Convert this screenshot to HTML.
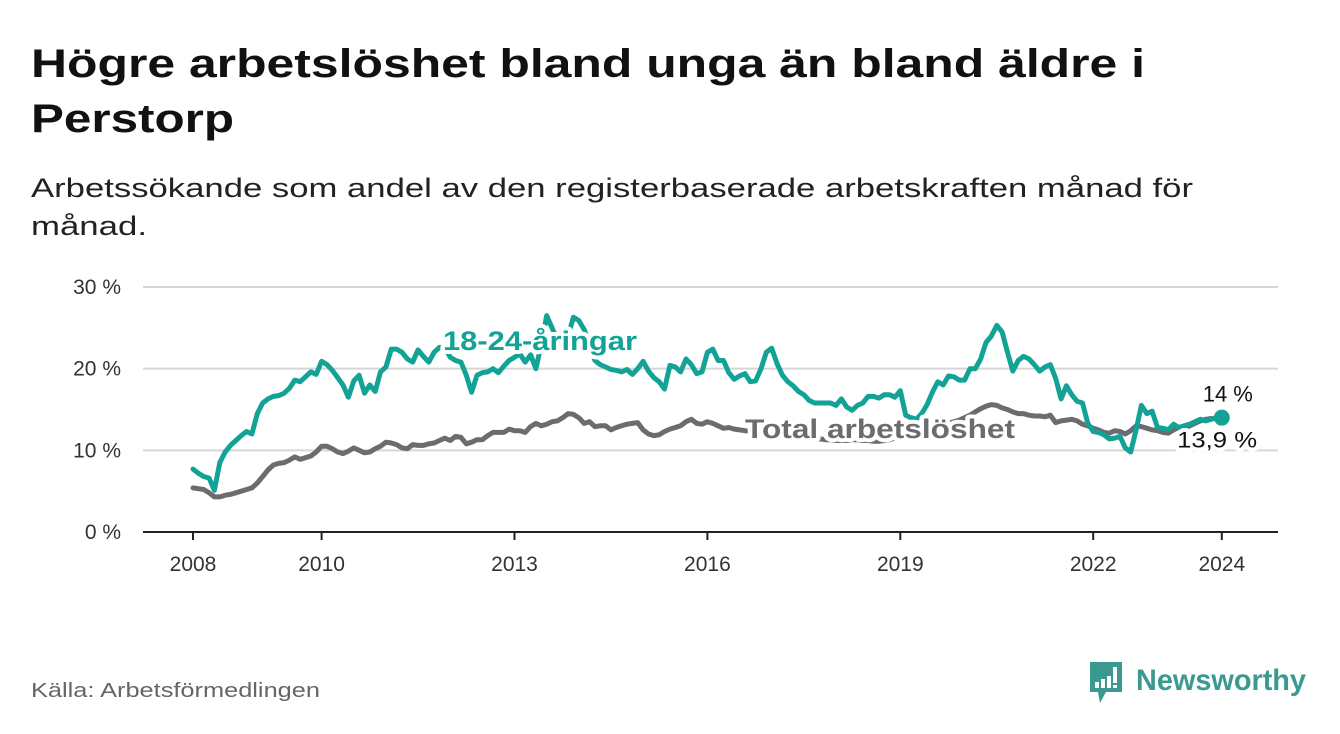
<!DOCTYPE html>
<html><head><meta charset="utf-8"><style>
body{margin:0;background:#fff;width:1340px;height:734px;overflow:hidden;font-family:"Liberation Sans",sans-serif;}
svg{display:block}
</style></head><body>
<svg id="chart" width="1340" height="734" viewBox="0 0 1340 734" xmlns="http://www.w3.org/2000/svg">
<text x="31" y="77" font-size="40" font-weight="bold" fill="#111" textLength="1114" lengthAdjust="spacingAndGlyphs">Högre arbetslöshet bland unga än bland äldre i</text>
<text x="31" y="132" font-size="40" font-weight="bold" fill="#111" textLength="203" lengthAdjust="spacingAndGlyphs">Perstorp</text>
<text x="31" y="197" font-size="27" fill="#222" textLength="1162" lengthAdjust="spacingAndGlyphs">Arbetssökande som andel av den registerbaserade arbetskraften månad för</text>
<text x="31" y="235" font-size="27" fill="#222" textLength="116" lengthAdjust="spacingAndGlyphs">månad.</text>
<g id="grid"></g>
<g id="xaxis"></g>
<g id="series"></g>
<g id="labels"></g>
<text x="31" y="697" font-size="20" fill="#666" textLength="289" lengthAdjust="spacingAndGlyphs">Källa: Arbetsförmedlingen</text>
<g>
<path d="M1090 662 h32 v30 h-16 l-6 11 l-2 -11 h-8 z" fill="#3a9a92"/>
<rect x="1095" y="682" width="4" height="6" fill="#fff"/><rect x="1101" y="679" width="4" height="9" fill="#fff"/><rect x="1107" y="676" width="4" height="12" fill="#fff"/><rect x="1113" y="667" width="4" height="16" fill="#fff"/><rect x="1113" y="685" width="4" height="3" fill="#fff"/>
<text x="1136" y="690" font-size="30" font-weight="bold" fill="#3a9a92" textLength="170" lengthAdjust="spacingAndGlyphs">Newsworthy</text>
</g>
</svg>
<script>
const youth=[7.7,7.2,6.8,6.6,5.1,8.5,9.8,10.6,11.2,11.8,12.3,12.0,14.5,15.8,16.3,16.6,16.7,17.0,17.6,18.6,18.4,19.0,19.6,19.3,20.9,20.5,19.8,18.9,18.0,16.5,18.5,19.2,17.0,18.0,17.2,19.6,20.2,22.4,22.4,22.0,21.2,20.8,22.3,21.5,20.8,22.0,22.6,22.6,21.4,21.0,20.8,19.2,17.1,19.2,19.5,19.6,20.0,19.5,20.3,21.0,21.4,21.8,20.8,21.7,20.0,23.0,26.5,25.0,23.5,22.5,24.0,26.3,25.9,24.8,23.0,21.0,20.5,20.2,19.9,19.8,19.6,19.9,19.3,20.0,20.9,19.7,18.9,18.4,17.5,20.4,20.2,19.6,21.2,20.5,19.4,19.6,22.0,22.4,21.0,21.0,19.5,18.7,19.1,19.4,18.4,18.5,20.0,22.0,22.5,20.6,19.2,18.4,17.9,17.2,16.8,16.1,15.8,15.8,15.8,15.8,15.5,16.3,15.3,14.9,15.5,15.8,16.6,16.6,16.4,16.8,16.8,16.5,17.3,14.3,14.0,13.8,14.5,15.6,17.1,18.4,18.0,19.1,19.0,18.6,18.6,20.0,20.0,21.2,23.2,24.0,25.3,24.5,22.0,19.7,21.0,21.5,21.2,20.5,19.7,20.2,20.5,18.8,16.3,17.9,16.8,16.0,15.8,13.3,12.3,12.2,11.9,11.4,11.5,11.7,10.3,9.8,12.5,15.5,14.5,14.8,12.8,12.7,12.5,13.2,12.8,13.0,13.2,13.5,13.8,13.6,13.8,14.0,14.0];
const total=[5.4,5.3,5.2,4.8,4.3,4.3,4.5,4.6,4.8,5.0,5.2,5.4,6.0,6.8,7.6,8.2,8.4,8.5,8.8,9.2,8.9,9.1,9.3,9.8,10.5,10.5,10.2,9.8,9.6,9.9,10.3,10.0,9.7,9.8,10.2,10.5,11.0,10.9,10.7,10.3,10.2,10.7,10.6,10.6,10.8,10.9,11.2,11.5,11.2,11.7,11.6,10.8,11.0,11.3,11.3,11.8,12.2,12.2,12.2,12.6,12.4,12.4,12.2,12.9,13.3,13.0,13.2,13.5,13.6,14.0,14.5,14.4,14.0,13.3,13.5,12.9,13.0,13.0,12.5,12.8,13.0,13.2,13.3,13.4,12.5,12.0,11.8,11.9,12.3,12.6,12.8,13.0,13.5,13.8,13.3,13.2,13.5,13.3,13.0,12.7,12.8,12.6,12.5,12.4,12.3,12.2,12.1,12.0,12.0,11.9,11.8,11.7,11.6,11.6,11.5,11.5,11.4,11.4,11.3,11.3,11.2,11.2,11.2,11.3,11.3,11.2,11.2,11.1,11.1,11.2,11.3,11.5,11.6,11.8,12.0,12.2,12.3,12.5,12.7,12.9,13.1,13.3,13.5,13.7,14.0,14.3,14.7,15.1,15.4,15.6,15.5,15.2,15.0,14.7,14.5,14.5,14.3,14.2,14.2,14.1,14.3,13.4,13.6,13.7,13.8,13.6,13.2,13.0,12.7,12.5,12.2,12.1,12.4,12.3,12.0,12.4,13.0,12.9,12.7,12.5,12.4,12.2,12.1,12.5,12.8,12.7,13.0,13.3,13.6,13.8,13.9];
const yTicks=[0,10,20,30];
const yTickLabels=["0 %","10 %","20 %","30 %"];
const xTicks=[2008,2010,2013,2016,2019,2022,2024];
const startYear=2008;
const NS="http://www.w3.org/2000/svg";
const x0=193, pxPerYear=64.3, yBase=532, pxPerUnit=8.167;
const X=m=>x0+m*pxPerYear/12;
const XY=yr=>x0+(yr-startYear)*pxPerYear;
const Y=v=>yBase-v*pxPerUnit;
function mk(tag,attrs,parent){const e=document.createElementNS(NS,tag);for(const k in attrs)e.setAttribute(k,attrs[k]);parent.appendChild(e);return e;}
const grid=document.getElementById('grid');
yTicks.forEach((t,i)=>{
  const l=mk('line',{x1:143,x2:1278,y1:Y(t),y2:Y(t),stroke:t===0?'#222':'#d6d6d6','stroke-width':2},grid);
  
  
  const tx=mk('text',{x:121,y:Y(t)+7,'font-size':21,'text-anchor':'end',fill:'#333'},grid);
  tx.textContent=yTickLabels[i];
  
  
});
const xa=document.getElementById('xaxis');
xTicks.forEach(t=>{
  const l=mk('line',{x1:XY(t),x2:XY(t),y1:532,y2:540,stroke:'#222','stroke-width':2},xa);
  
  
  const tx=mk('text',{x:XY(t),y:571,'font-size':21,'text-anchor':'middle',fill:'#333'},xa);
  tx.textContent=t;
  
  
});
const sg=document.getElementById('series');
function line(arr,color,name){
  const d=arr.map((v,i)=>(i?'L':'M')+X(i).toFixed(1)+' '+Y(v).toFixed(1)).join(' ');
  const p=mk('path',{d:d,fill:'none',stroke:color,'stroke-width':5,'stroke-linejoin':'round','stroke-linecap':'round'},sg);
  
  
}
line(total,'#6d6b70','total-line');
line(youth,'#12a396','youth-line');
const dot=mk('circle',{cx:X(youth.length-1),cy:Y(youth[youth.length-1]),r:8,fill:'#12a396'},sg);


const lg=document.getElementById('labels');
function lab(txt,x,y,size,weight,color,name,anchor,len){
  const a={x:x,y:y,'font-size':size,'font-weight':weight,fill:color,stroke:'#fff','stroke-width':8,'stroke-linejoin':'round','paint-order':'stroke','text-anchor':anchor||'start'};
  if(len){a.textLength=len;a.lengthAdjust='spacingAndGlyphs';}
  const t=mk('text',a,lg);
  t.textContent=txt;
  
  
}
lab('18-24-åringar',443,350,27,'bold','#12a396','youth-label','start',194);
lab('Total arbetslöshet',745,438,27,'bold','#6d6b70','total-label','start',270);
lab('14 %',X(youth.length-1)+6,Y(youth[youth.length-1])-16,22,'normal','#111','youth-end-value','middle');
lab(String(total[total.length-1]).replace('.',',')+' %',X(total.length-1)+6,Y(total[total.length-1])+29,22,'normal','#111','total-end-value','middle',80);
</script>
</body></html>
